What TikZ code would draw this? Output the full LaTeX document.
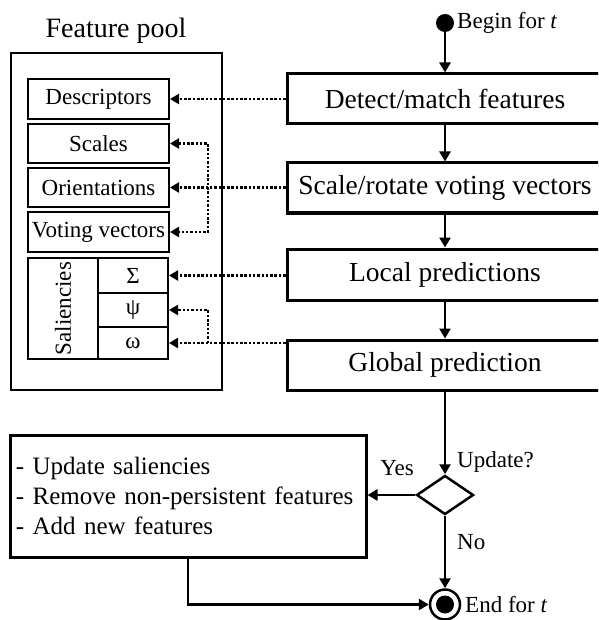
\documentclass[tikz,border=0pt]{standalone}
\usepackage{fontspec}
\setmainfont{Liberation Serif}
\usetikzlibrary{arrows.meta,shapes.geometric}
\begin{document}
\begin{tikzpicture}[x=1pt,y=-1pt,
  mainbox/.style={draw,line width=3pt,minimum width=316pt,minimum height=50pt,inner sep=0pt,font=\fontsize{27.5}{33}\selectfont},
  poolbox/.style={draw,line width=2pt,minimum width=141pt,inner sep=0pt,font=\fontsize{23}{27}\selectfont},
  cell/.style={draw,line width=2pt,minimum width=70pt,inner sep=0pt,font=\fontsize{23}{27}\selectfont},
  flow/.style={line width=2.5pt,-{Triangle[length=10pt,width=11pt]}},
  dotarrow/.style={line width=2.5pt,dash pattern=on 2.5pt off 1.8pt,-{Triangle[length=9pt,width=10pt]}},
  dotboth/.style={line width=2.5pt,dash pattern=on 2.5pt off 1.8pt,{Triangle[length=9pt,width=10pt]}-{Triangle[length=9pt,width=10pt]}},
  lbl/.style={font=\fontsize{23}{27}\selectfont,inner sep=0pt},
]
\useasboundingbox (0,0) rectangle (598,620);
\clip (0,0) rectangle (598,620);

% feature pool
\node[font=\fontsize{28}{33}\selectfont,inner sep=0pt] (title) at (116,31) {Feature pool};
\node[draw,line width=2.5pt,minimum width=211pt,minimum height=337pt] (pool) at (116.5,221.5) {};
\node[poolbox,minimum height=40pt] (desc) at (98.5,99) {Descriptors};
\node[poolbox,minimum height=39pt] (scales) at (98.5,143.5) {Scales};
\node[poolbox,minimum height=39pt] (orient) at (98.5,187.5) {Orientations};
\node[poolbox,minimum height=40pt] (vote) at (98.5,232) {Voting vectors};
\node[cell,minimum width=101pt,minimum height=70pt,rotate=90] (sal) at (63,308.5) {Saliencies};
\node[cell,minimum height=35pt] (sigma) at (133,275.5) {Σ};
\node[cell,minimum height=34pt] (psi) at (133,310) {ψ};
\node[cell,minimum height=32pt] (omega) at (133,343) {ω};

% main flow
\node[circle,fill,inner sep=0pt,minimum size=18pt] (begin) at (445,23) {};
\node[lbl,anchor=west] (begintxt) at (457,23) {Begin for \textit{t}};
\node[mainbox] (detect) at (445,99) {Detect/match features};
\node[mainbox] (scale) at (445,188) {Scale/rotate voting vectors};
\node[mainbox,minimum height=51pt] (local) at (445,274.5) {Local predictions};
\node[mainbox] (global) at (445,365) {Global prediction};
\node[diamond,draw,line width=2.5pt,minimum width=57pt,minimum height=39pt,inner sep=0pt] (dec) at (445,495) {};
\node[lbl,anchor=west] (updq) at (457,462) {Update?};
\node[lbl] (yes) at (397,468) {Yes};
\node[lbl,anchor=west] (no) at (457,542) {No};
\node[draw,line width=3pt,minimum width=356pt,minimum height=122pt,text width=344pt,align=left,inner xsep=6pt,inner ysep=0pt,font=\fontsize{25}{30}\selectfont] (upd) at (188,496) {\mbox{- Update saliencies}\\\mbox{- Remove non-persistent features}\\\mbox{- Add new features}};
\node[circle,draw,line width=2.5pt,minimum size=30pt,inner sep=0pt] (end) at (445,604.5) {};
\node[circle,fill,inner sep=0pt,minimum size=18pt] (enddot) at (end.center) {};
\node[lbl,anchor=west] (endtxt) at (465,605) {End for \textit{t}};

% solid arrows
\draw[flow] (begin) -- (detect);
\draw[flow] (detect) -- (scale);
\draw[flow] (scale) -- (local);
\draw[flow] (local) -- (global);
\draw[flow] (global) -- (dec);
\draw[flow] (dec.west) -- (dec.west -| upd.east);
\draw[flow] (dec.south) -- (end.north);
\draw[flow] (upd.south) |- (end.west);

% dotted arrows
\coordinate (bx) at (208,0);
\draw[dotarrow] (detect.west |- desc.east) -- (desc.east);
\draw[dotarrow] (scale.west |- orient.east) -- (orient.east);
\draw[dotboth] (scales.east) -- (scales.east -| bx) -- (vote.east -| bx) -- (vote.east);
\draw[dotarrow] (local.west |- sigma.east) -- (sigma.east);
\draw[dotarrow] (global.west |- omega.east) -- (omega.east);
\draw[dotarrow] (omega.east -| bx) -- (psi.east -| bx) -- (psi.east);
\end{tikzpicture}
\end{document}
